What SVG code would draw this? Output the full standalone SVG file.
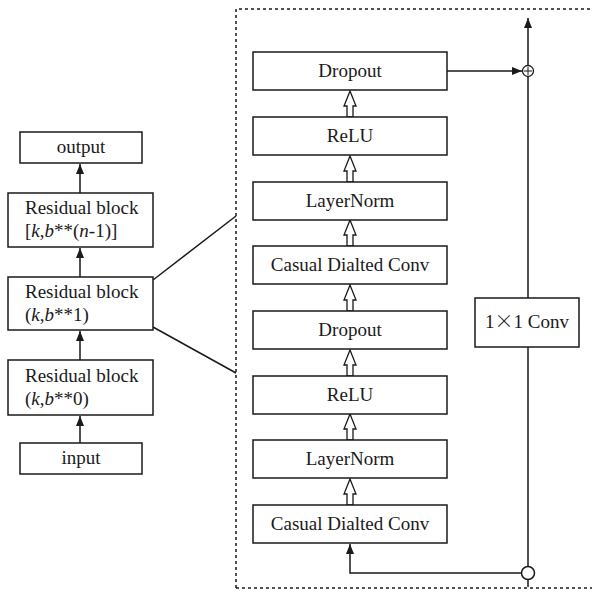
<svg xmlns="http://www.w3.org/2000/svg" width="592" height="599" viewBox="0 0 592 599">
<defs>
<marker id="ah" viewBox="0 0 10 8" refX="10" refY="4" markerWidth="10" markerHeight="8" markerUnits="userSpaceOnUse" orient="auto">
<path d="M0,0 L10,4 L0,8 z" fill="#1a1a1a"/>
</marker>
<polygon id="hollow" points="0,0 6,15 3,15 3,26 -3,26 -3,15 -6,15" fill="#fff" stroke="#1a1a1a" stroke-width="1.3" stroke-linejoin="miter"/>
</defs>
<style>
rect.b{fill:#fff;stroke:#1a1a1a;stroke-width:1.5}
text{font-family:"Liberation Serif","Times New Roman",serif;font-size:19px;fill:#1a1a1a}
.c{text-anchor:middle}
.ln{stroke:#1a1a1a;stroke-width:1.5;fill:none}
.arr{marker-end:url(#ah)}
.dash{stroke:#1a1a1a;stroke-width:1.5;stroke-dasharray:3 3;fill:none}
</style>
<rect width="592" height="599" fill="#fff"/>

<g id="frame">
<path class="dash" d="M236,588 L236,9 L592,9"/>
<path class="dash" d="M236,588 L592,588"/>
</g>

<g id="connectors">
<line class="ln arr" x1="80" y1="443" x2="80" y2="416"/>
<line class="ln arr" x1="80" y1="360" x2="80" y2="331"/>
<line class="ln arr" x1="80" y1="277" x2="80" y2="248"/>
<line class="ln arr" x1="80" y1="193" x2="80" y2="164"/>
<line class="ln" x1="153" y1="280" x2="236" y2="216"/>
<line class="ln" x1="153" y1="327" x2="236" y2="373"/>
<use href="#hollow" x="350" y="91"/>
<use href="#hollow" x="350" y="156"/>
<use href="#hollow" x="350" y="220"/>
<use href="#hollow" x="350" y="285"/>
<use href="#hollow" x="350" y="350"/>
<use href="#hollow" x="350" y="414"/>
<use href="#hollow" x="350" y="479"/>
<line class="ln arr" x1="528" y1="587" x2="528" y2="18"/>
<line class="ln arr" x1="447" y1="71" x2="522" y2="71"/>
<path class="ln arr" d="M521.5,573 L350,573 L350,544"/>
<circle cx="528" cy="71" r="5.5" fill="#fff" stroke="#1a1a1a" stroke-width="1.3"/>
<path d="M528,67 V75 M524,71 H532" stroke="#1a1a1a" stroke-width="1"/>
<circle cx="528" cy="573" r="6.5" fill="#fff" stroke="#1a1a1a" stroke-width="1.5"/>
</g>

<g id="output"><rect class="b" x="20" y="132" width="122" height="31"/><text class="c" x="81" y="153">output</text></g>
<g id="res_n1"><rect class="b" x="8" y="193" width="145" height="54"/><text x="25" y="214">Residual block</text><text x="25" y="237">[<tspan font-style="italic">k</tspan>,<tspan font-style="italic">b</tspan>**(<tspan font-style="italic">n</tspan>-1)]</text></g>
<g id="res_1"><rect class="b" x="8" y="277" width="145" height="53"/><text x="25" y="298">Residual block</text><text x="25" y="321">(<tspan font-style="italic">k</tspan>,<tspan font-style="italic">b</tspan>**1)</text></g>
<g id="res_0"><rect class="b" x="8" y="360" width="145" height="55"/><text x="25" y="382">Residual block</text><text x="25" y="405">(<tspan font-style="italic">k</tspan>,<tspan font-style="italic">b</tspan>**0)</text></g>
<g id="input"><rect class="b" x="20" y="443" width="122" height="31"/><text class="c" x="81" y="464">input</text></g>

<g id="dropout2"><rect class="b" x="253" y="52" width="194" height="38"/><text class="c" x="350" y="77">Dropout</text></g>
<g id="relu2"><rect class="b" x="253" y="117" width="194" height="38"/><text class="c" x="350" y="142">ReLU</text></g>
<g id="layernorm2"><rect class="b" x="253" y="182" width="194" height="38"/><text class="c" x="350" y="207">LayerNorm</text></g>
<g id="conv2"><rect class="b" x="253" y="246" width="194" height="38"/><text class="c" x="350" y="271">Casual Dialted Conv</text></g>
<g id="dropout1"><rect class="b" x="253" y="311" width="194" height="38"/><text class="c" x="350" y="336">Dropout</text></g>
<g id="relu1"><rect class="b" x="253" y="376" width="194" height="38"/><text class="c" x="350" y="401">ReLU</text></g>
<g id="layernorm1"><rect class="b" x="253" y="440" width="194" height="38"/><text class="c" x="350" y="465">LayerNorm</text></g>
<g id="conv1"><rect class="b" x="253" y="505" width="194" height="38"/><text class="c" x="350" y="530">Casual Dialted Conv</text></g>

<g id="conv1x1"><rect class="b" x="475" y="298" width="104" height="49"/><text class="c" x="527" y="328">1<tspan font-family="'Noto Sans CJK SC',sans-serif" font-weight="300">×</tspan>1 Conv</text></g>
</svg>
